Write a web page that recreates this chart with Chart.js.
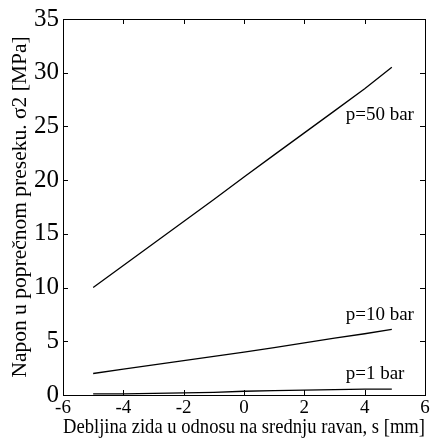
<!DOCTYPE html>
<html>
<head>
<meta charset="utf-8">
<script src="https://cdn.jsdelivr.net/npm/chart.js@4/dist/chart.umd.min.js"></script>
<style>
  html, body { margin: 0; padding: 0; background: #fff; }
  #wrap { width: 441px; height: 438px; }
</style>
</head>
<body>
<div id="wrap"><canvas id="c" width="441" height="438"></canvas></div>
<script>
// debljina zida s [mm]
const sVals   = [-5, -4, -3, -2, -1, 0, 1, 2, 3, 4, 4.9];
// napon sigma2 [MPa] po pritisku
const p50     = [10.0, 12.05, 14.1, 16.15, 18.2, 20.3, 22.35, 24.4, 26.45, 28.5, 30.5];
const p10     = [2.0, 2.4, 2.8, 3.2, 3.6, 4.0, 4.4, 4.85, 5.3, 5.7, 6.1];
const p1      = [0.1, 0.1, 0.15, 0.2, 0.25, 0.35, 0.4, 0.45, 0.5, 0.55, 0.55];
const xTicks  = [-6, -4, -2, 0, 2, 4, 6];
const yTicks  = [0, 5, 10, 15, 20, 25, 30, 35];
const seriesLabels = ['p=50 bar', 'p=10 bar', 'p=1 bar'];
// gde stoje natpisi uz krive (u jedinicama podataka)
const labelPos = [[3.37, 26.1], [3.37, 7.4], [3.37, 1.95]];

const serif = '"Liberation Serif", "Times New Roman", serif';
const toPts = ys => sVals.map((x, i) => ({ x, y: ys[i] }));

const boxAndTicks = {
    id: 'boxAndTicks',
    afterDraw(chart) {
        const { ctx, chartArea: a, scales: { x, y } } = chart;
        ctx.save();
        ctx.strokeStyle = '#000';
        ctx.lineWidth = 1;
        ctx.strokeRect(a.left + 0.5, a.top + 0.5, a.right - a.left, a.bottom - a.top);
        const len = 5;
        ctx.beginPath();
        xTicks.forEach(v => {
            const px = Math.round(x.getPixelForValue(v)) + 0.5;
            ctx.moveTo(px, a.bottom); ctx.lineTo(px, a.bottom - len);
            ctx.moveTo(px, a.top);    ctx.lineTo(px, a.top + len);
        });
        yTicks.forEach(v => {
            const py = Math.round(y.getPixelForValue(v)) + 0.5;
            ctx.moveTo(a.left, py);  ctx.lineTo(a.left + len, py);
            ctx.moveTo(a.right, py); ctx.lineTo(a.right - len, py);
        });
        ctx.stroke();

        ctx.fillStyle = '#000';
        ctx.font = '19px ' + serif;
        ctx.textAlign = 'left';
        ctx.textBaseline = 'middle';
        seriesLabels.forEach((t, i) => {
            ctx.fillText(t, x.getPixelForValue(labelPos[i][0]), y.getPixelForValue(labelPos[i][1]));
        });
        ctx.restore();
    }
};

const lineDs = (label, data) => ({
    label, data: toPts(data),
    borderColor: '#000', borderWidth: 1.3,
    pointRadius: 0, fill: false, tension: 0,
});

new Chart(document.getElementById('c'), {
    type: 'line',
    data: {
        datasets: [
            lineDs(seriesLabels[0], p50),
            lineDs(seriesLabels[1], p10),
            lineDs(seriesLabels[2], p1),
        ],
    },
    options: {
        responsive: false,
        animation: false,
        layout: { padding: { top: 17, right: 16, left: 0, bottom: 0 } },
        plugins: {
            legend: { display: false },
            tooltip: { enabled: false },
        },
        scales: {
            x: {
                type: 'linear', min: -6, max: 6,
                afterBuildTicks: s => { s.ticks = xTicks.map(v => ({ value: v })); },
                afterFit: s => { s.height = 43; },
                grid: { display: false, drawTicks: false },
                border: { display: false },
                ticks: { color: '#000', font: { family: serif, size: 19, lineHeight: 1 }, padding: 4, maxRotation: 0 },
                title: {
                    display: true, text: 'Debljina zida u odnosu na srednju ravan, s [mm]',
                    color: '#000', font: { family: serif, size: 21, lineHeight: 1 }, padding: { top: 0, bottom: 0 },
                },
            },
            y: {
                type: 'linear', min: 0, max: 35,
                afterBuildTicks: s => { s.ticks = yTicks.map(v => ({ value: v })); },
                afterFit: s => { s.width = 63; },
                grid: { display: false, drawTicks: false },
                border: { display: false },
                ticks: { color: '#000', font: { family: serif, size: 25 }, padding: 4 },
                title: {
                    display: true, text: 'Napon u poprečnom preseku. σ2 [MPa]',
                    color: '#000', font: { family: serif, size: 21.5, lineHeight: 1 }, padding: { top: 10, bottom: 0 },
                },
            },
        },
    },
    plugins: [boxAndTicks],
});
</script>
</body>
</html>
